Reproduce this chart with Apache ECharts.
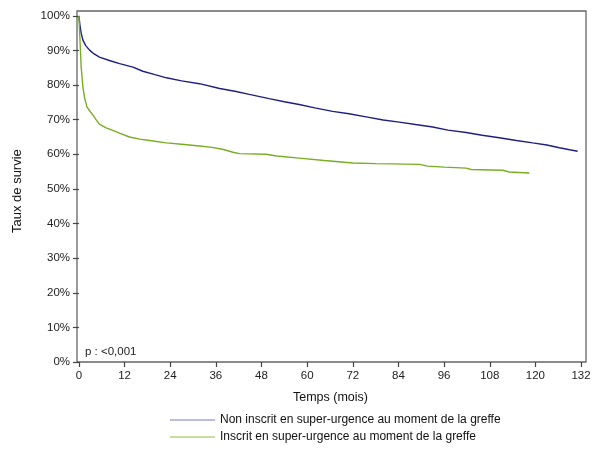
<!DOCTYPE html>
<html><head><meta charset="utf-8">
<script src="https://cdn.jsdelivr.net/npm/echarts@6/dist/echarts.min.js"></script>
<style>html,body{margin:0;padding:0;background:#fff}#c{width:600px;height:450px}</style>
</head><body><div id="c"></div>
<script>
var xTicks = [0,12,24,36,48,60,72,84,96,108,120,132];
var yTicks = [0,10,20,30,40,50,60,70,80,90,100];
var seriesNames = ['Non inscrit en super-urgence au moment de la greffe','Inscrit en super-urgence au moment de la greffe'];
var nonSU = [[0,100],[0.3,97],[0.6,95],[1.05,93.0],[1.8,91.4],[2.8,90.1],[4,89],[5.4,88.1],[8,87.1],[10.7,86.2],[14.2,85.2],[16.8,84.0],[20,83.0],[23,82.1],[27,81.2],[31.7,80.4],[37,79.0],[41,78.2],[44.8,77.3],[50,76.1],[54,75.2],[57.9,74.4],[62,73.4],[66.7,72.4],[71,71.7],[75.5,70.8],[80,69.9],[84.2,69.3],[88.5,68.6],[93,67.9],[97,67.0],[101.8,66.3],[106,65.5],[110.5,64.8],[115,64.0],[119.3,63.3],[123,62.7],[126.3,61.9],[129,61.3],[131.1,60.9]];
var SU = [[0,100],[0.2,95],[0.6,85.2],[1.05,79.5],[1.5,76.3],[2.1,73.7],[3,72.3],[3.7,71.3],[4.5,70],[5.4,68.7],[7,67.7],[8.9,66.9],[11,66.0],[13.3,65.0],[16,64.4],[18.6,64.0],[23,63.3],[27,62.9],[31.7,62.4],[35,62.0],[38,61.4],[40.5,60.6],[42.2,60.2],[49.2,60.0],[52,59.5],[57.9,58.9],[64.5,58.2],[72,57.5],[78.1,57.3],[89.5,57.1],[91.7,56.6],[96,56.3],[101.8,56.0],[103.1,55.6],[111.4,55.4],[113.1,54.9],[118.4,54.6]];
var pText = 'p : <0,001';

var chart = echarts.init(document.getElementById('c'));
var font = 'Liberation Sans, Arial, sans-serif';
chart.setOption({
  animation:false,
  textStyle:{fontFamily:font},
  grid:{left:77,right:14,top:11,bottom:88,show:true,borderColor:'#666',borderWidth:1.3,backgroundColor:'#fff'},
  xAxis:{type:'value',min:-0.5,max:133.3,
    axisLine:{show:false,onZero:false},
    axisTick:{show:true,length:5,customValues:xTicks,lineStyle:{color:'#444',width:1.2}},
    axisLabel:{customValues:xTicks,color:'#222',fontSize:11.5,margin:8,fontFamily:font},
    splitLine:{show:false}},
  yAxis:{type:'value',min:0,max:101.4,
    axisLine:{show:false},
    axisTick:{show:true,length:6,customValues:yTicks,lineStyle:{color:'#444',width:1.2}},
    axisLabel:{customValues:yTicks,color:'#222',fontSize:11.5,margin:7,fontFamily:font,formatter:function(v){return v+'%';}},
    splitLine:{show:false}},
  legend:{orient:'vertical',left:170,top:414,height:60,padding:0,itemWidth:45,itemHeight:11,itemGap:5,
    icon:'path://M0,5L45,5L45,6L0,6Z',
    textStyle:{fontSize:12,color:'#111',fontFamily:font},
    data:[{name:seriesNames[0],itemStyle:{color:'#7c7cc4'}},{name:seriesNames[1],itemStyle:{color:'#8dc040'}}]},
  graphic:[
    {type:'text',left:293,top:391,style:{text:'Temps (mois)',fontSize:12.5,fill:'#111',fontFamily:font}},
    {type:'text',x:11,y:233,rotation:Math.PI/2,style:{text:'Taux de survie',fontSize:13,fill:'#111',fontFamily:font}},
    {type:'text',left:85,top:346,style:{text:pText,fontSize:11.5,fill:'#222',fontFamily:font}}
  ],
  series:[
    {name:seriesNames[0],type:'line',data:nonSU,showSymbol:false,symbol:'none',color:'#1f1f80',lineStyle:{width:1.4,color:'#1f1f80'}},
    {name:seriesNames[1],type:'line',data:SU,showSymbol:false,symbol:'none',color:'#79ad24',lineStyle:{width:1.4,color:'#79ad24'}}
  ]
});
</script></body></html>
